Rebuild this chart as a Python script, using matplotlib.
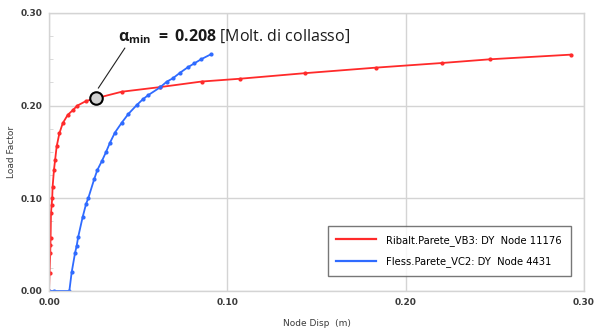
import numpy as np
import matplotlib
matplotlib.use("Agg")
import matplotlib.pyplot as plt
from matplotlib.ticker import MultipleLocator

plt.rcParams['mathtext.fontset'] = 'custom'
plt.rcParams['mathtext.rm'] = 'Open Sans'
plt.rcParams['mathtext.bf'] = 'Open Sans:bold'
plt.rcParams['mathtext.it'] = 'Open Sans:italic'

# red curve (Ribalt.Parete_VB3)
red_x = [0.0, 0.0003, 0.0007, 0.0008, 0.0009, 0.0011, 0.0015, 0.0018, 0.0020, 0.0028,
         0.0034, 0.0043, 0.0058, 0.0077, 0.0105, 0.0133, 0.0159, 0.0208, 0.0265, 0.0408,
         0.0623, 0.0856, 0.107, 0.1434, 0.1834, 0.2204, 0.2473, 0.2926]
red_y = [0.0, 0.019, 0.041, 0.050, 0.057, 0.084, 0.093, 0.100, 0.112, 0.131,
         0.141, 0.156, 0.170, 0.181, 0.190, 0.195, 0.200, 0.205, 0.208, 0.215,
         0.220, 0.226, 0.229, 0.235, 0.241, 0.246, 0.250, 0.255]

# blue curve (Fless.Parete_VC2)
blue_x = [0.0, 0.003, 0.0114, 0.0127, 0.0146, 0.0155, 0.0164, 0.0189, 0.0208, 0.0220,
          0.0254, 0.0271, 0.0296, 0.0320, 0.0342, 0.0370, 0.0408, 0.0445, 0.0492, 0.0526,
          0.0557, 0.0623, 0.0660, 0.0694, 0.0735, 0.0778, 0.0815, 0.0853, 0.0907]
blue_y = [0.0, 0.0, 0.0, 0.020, 0.041, 0.0486, 0.0586, 0.080, 0.094, 0.100,
          0.121, 0.1305, 0.140, 0.150, 0.160, 0.171, 0.1816, 0.191, 0.2006, 0.2068,
          0.2114, 0.2197, 0.2258, 0.2294, 0.2355, 0.2413, 0.2456, 0.250, 0.2553]

alpha_min = 0.208
alpha_x = 0.0265

x_ticks = [0.0, 0.1, 0.2, 0.3]
y_ticks = [0.0, 0.1, 0.2, 0.3]

red_col  = "#ff2a2a"
blue_col = "#2f6bff"
grid_col = "#d4d4d4"
txt_col  = "#3a3a3a"

fig = plt.figure(figsize=(5.94, 3.32), dpi=100)
ax = fig.add_axes([0.0825, 0.1235, 0.9005, 0.8375])

ax.plot(red_x, red_y, color=red_col, lw=1.3, marker='o', ms=2.0,
        label="Ribalt.Parete_VB3: DY  Node 11176")
ax.plot(blue_x, blue_y, color=blue_col, lw=1.3, marker='o', ms=2.0,
        label="Fless.Parete_VC2: DY  Node 4431")

# point of minimum collapse multiplier
ax.plot([alpha_x], [alpha_min], marker='o', ms=9, mfc="#d0d0d0",
        mec="black", mew=1.5, zorder=5)
ax.plot([alpha_x + 0.0012, 0.0425], [alpha_min + 0.011, 0.262], color="#222222", lw=0.8)
ax.text(0.0385, 0.274,
        r"$\mathbf{\alpha_{min}}$" + r"$\mathbf{\ =\ 0.208}$" + " [Molt. di collasso]",
        fontsize=11.5, family="Open Sans", va='center', ha='left', color="#1a1a1a")

ax.set_xlim(0, 0.3)
ax.set_ylim(0, 0.3)
ax.set_xticks(x_ticks)
ax.set_yticks(y_ticks)
ax.set_xticklabels([f"{v:.2f}" for v in x_ticks])
ax.set_yticklabels([f"{v:.2f}" for v in y_ticks])
ax.yaxis.set_minor_locator(MultipleLocator(0.025))
ax.tick_params(axis='both', which='major', length=0, labelsize=6.5,
               labelcolor=txt_col, pad=5)
ax.tick_params(axis='y', which='minor', length=3, color=grid_col, direction='in')
for lbl in ax.get_xticklabels() + ax.get_yticklabels():
    lbl.set_fontweight('bold')

ax.grid(True, which='major', color=grid_col, lw=1.0)
for s in ax.spines.values():
    s.set_color(grid_col)
    s.set_linewidth(1.0)

ax.set_xlabel("Node Disp  (m)", fontsize=6.5, color=txt_col, labelpad=9)
ax.set_ylabel("Load Factor", fontsize=6.5, color=txt_col, labelpad=3)

leg = ax.legend(loc='lower right', bbox_to_anchor=(0.975, 0.055), fontsize=7.2,
                frameon=True, fancybox=False, handlelength=4.0, borderpad=0.85,
                labelspacing=1.05, handletextpad=1.0, borderaxespad=0)
leg.get_frame().set_edgecolor("#555555")
leg.get_frame().set_linewidth(1.0)
for h in leg.get_lines():
    h.set_marker('')
    h.set_linewidth(1.6)

fig.savefig("out.png", dpi=100)
